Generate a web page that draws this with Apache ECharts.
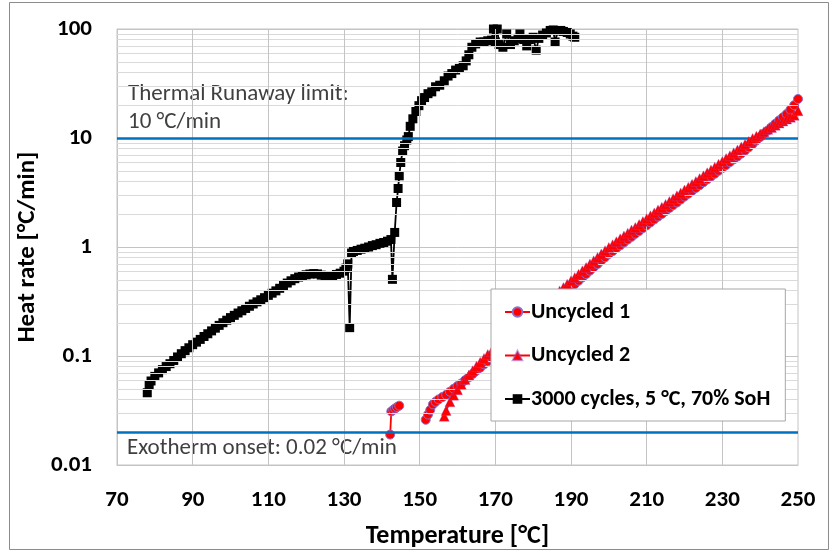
<!DOCTYPE html>
<html><head><meta charset="utf-8">
<script src="https://cdn.jsdelivr.net/npm/echarts@6/dist/echarts.min.js"></script>
<style>html,body{margin:0;padding:0;background:#fff}#c{width:837px;height:554px}</style>
</head><body><div id="c"></div><script>
// ---------- data ----------
const seriesNames = ['Uncycled 1', 'Uncycled 2', '3000 cycles, 5 \u00B0C, 70% SoH'];
const xLabelValues = [70, 90, 110, 130, 150, 170, 190, 210, 230, 250];
const xGridValues = [90, 110, 130, 150, 170, 190, 210, 230];
const yMinorGridValues = [0.02,0.03,0.04,0.05,0.06,0.07,0.08,0.09,0.2,0.3,0.4,0.5,0.6,0.7,0.8,0.9,2,3,4,5,6,7,8,9,20,30,40,50,60,70,80,90];
const limitValues = [10, 0.02];

const uncycled1Temp = [142.2,142.5,143.0,143.5,144.0,144.6,148.0,151.6,152.2,152.8,153.5,154.2,155.0,156.0,
157,158,159,160,161,162,163,164,165,166,167,168,169,170,171,172,173,174,175,176,177,178,179,180,
181,182,183,184,185,186,187,188,189,190,191,192,193,194,195,196,197,198,199,200,201,202,203,204,205,
206,207,208,209,210,211,212,213,214,215,216,217,218,219,220,221,222,223,224,225,226,227,228,229,230,
231,232,233,234,235,236,237,238,239,240,241,242,243,244,245,246,247,248,249,250];
const uncycled1Rate = [0.019,0.031,0.032,0.033,0.034,0.035,null,0.026,0.029,0.032,0.036,0.038,0.040,0.042,
0.044,0.047,0.050,0.053,0.056,0.060,0.0638,0.0684,0.0733,0.078,0.0838,0.0895,0.0961,0.103,0.111,0.119,0.128,0.137,0.147,0.158,0.169,0.182,0.195,0.209,
0.225,0.242,0.259,0.278,0.299,0.321,0.344,0.369,0.396,0.426,0.457,0.490,0.526,0.565,0.607,0.650,0.698,0.750,0.805,0.863,0.916,0.975,1.035,1.10,1.17,
1.24,1.32,1.40,1.49,1.58,1.68,1.79,1.90,2.01,2.14,2.28,2.42,2.56,2.73,2.90,3.08,3.27,3.48,3.69,3.93,4.17,4.43,4.70,5.00,5.31,
5.64,6.00,6.37,6.76,7.19,7.67,8.22,8.81,9.48,10.2,11.0,11.7,12.6,13.5,14.5,15.5,16.6,18.2,20.0,22.8];

const uncycled2Temp = [156.5,157,158,159,160,161,162,163,164,165,166,167,168,169,170,171,172,173,174,175,176,177,178,179,180,
181,182,183,184,185,186,187,188,189,190,191,192,193,194,195,196,197,198,199,200,201,202,203,204,205,
206,207,208,209,210,211,212,213,214,215,216,217,218,219,220,221,222,223,224,225,226,227,228,229,230,
231,232,233,234,235,236,237,238,239,240,241,242,243,244,245,246,247,248,249,250];
const uncycled2Rate = [0.028,0.0316,0.038,0.0437,0.049,0.055,0.061,0.0668,0.0733,0.0804,0.0875,0.095,0.103,0.110,0.1186,0.127,0.136,0.147,0.157,0.169,0.181,0.195,0.209,0.224,0.240,
0.258,0.277,0.298,0.319,0.343,0.368,0.395,0.424,0.455,0.489,0.525,0.562,0.604,0.649,0.697,0.747,0.802,0.861,0.925,0.991,1.05,1.12,1.19,1.26,1.34,
1.43,1.51,1.61,1.71,1.82,1.93,2.05,2.18,2.31,2.46,2.61,2.77,2.95,3.13,3.33,3.53,3.76,3.99,4.24,4.50,4.79,5.08,5.40,5.74,6.10,
6.48,6.88,7.31,7.77,8.25,8.77,9.31,9.89,10.4,10.9,11.4,12.0,12.5,13.1,13.7,14.3,14.9,15.5,16.2,17.8];

const cycledTemp = [78,78.5,79,80,81,82,83,84,85,86,87,88,89,90,91,92,93,94,95,96,97,98,99,100,
101,102,103,104,105,106,107,108,109,110,111,112,113,114,115,116,117,118,119,120,121,122,123,124,125,126,127,128,129,130,
130.5,131,131.5,132,132.5,133.5,134.5,135.5,136.5,137.5,138.5,139.5,140.5,141.5,142.4,142.8,143.4,143.9,144.3,144.6,145.0,145.5,
146.0,146.6,147.0,147.5,148.2,149.0,149.8,150.5,151.3,152.2,153.2,154.2,155.3,156.5,157.5,158.5,159.5,160.5,161.5,162.3,163.0,163.8,
164.8,166.0,167.0,168.0,169.0,169.5,170.0,170.5,171.0,172.0,173.0,174.0,175.0,176.0,176.5,177.5,178.3,179.0,180.0,180.8,181.5,182.5,
183.5,184.5,185.3,185.8,186.5,187.3,188.0,189.0,189.8,190.5,191.0];
const cycledRate = [0.046,0.054,0.059,0.065,0.070,0.075,0.080,0.085,0.091,0.098,0.105,0.112,0.119,0.127,0.134,0.142,0.151,0.160,0.170,0.180,0.191,0.202,0.213,0.225,
0.236,0.248,0.260,0.273,0.286,0.300,0.314,0.328,0.343,0.360,0.377,0.396,0.418,0.443,0.467,0.490,0.512,0.530,0.545,0.556,0.565,0.570,0.566,0.552,0.540,0.538,0.548,0.560,0.575,0.600,
0.640,0.700,0.182,0.880,0.910,0.930,0.955,0.975,1.000,1.030,1.050,1.080,1.100,1.130,1.170,0.505,1.36,2.56,3.44,4.5,5.96,7.6,
8.5,9.6,10.3,12.8,15.0,17.5,19.8,22.0,23.5,25.5,26.5,29.5,30.5,33.5,37.0,39.0,42.0,43.5,46.0,51.0,58.0,68.0,
73.0,76.0,76.0,78.0,79.0,100,76.0,100,72.0,68.0,90.0,72.0,78.0,82.0,90.0,80.0,70.0,80.0,84.0,64.0,82.0,88.0,
92.0,97.0,98.0,76.0,96.0,97.0,95.0,93.0,90.0,86.0,84.0];

// ---------- chart ----------
const FONT = 'Carlito, Lato, sans-serif';
const zip = (xs, ys) => xs.map((x, i) => [x, ys[i]]);
const chart = echarts.init(document.getElementById('c'), null, {renderer: 'canvas'});
const labelSet = new Set(xLabelValues);

chart.setOption({
  animation: false,
  backgroundColor: '#fff',
  grid: {left: 117, top: 29, width: 681, height: 438, show: true, borderColor: '#c4c4c4', borderWidth: 1},
  xAxis: {
    type: 'value', min: 70, max: 250, interval: 10,
    name: 'Temperature [\u00B0C]', nameLocation: 'middle', nameGap: 58,
    nameTextStyle: {fontFamily: FONT, fontWeight: 'bold', fontSize: 26, color: '#000'},
    axisLine: {show: true, lineStyle: {color: '#c4c4c4'}},
    axisTick: {show: false},
    splitLine: {show: false},
    axisLabel: {margin: 24, fontFamily: FONT, fontWeight: 'bold', fontSize: 23, color: '#000',
      formatter: v => labelSet.has(v) ? String(v) : ''}
  },
  yAxis: {
    type: 'log', logBase: 10, min: 0.01, max: 100,
    name: 'Heat rate [\u00B0C/min]', nameLocation: 'middle', nameGap: 65,
    nameTextStyle: {fontFamily: FONT, fontWeight: 'bold', fontSize: 25, color: '#000'},
    axisLine: {show: true, lineStyle: {color: '#c4c4c4'}},
    axisTick: {show: false},
    splitLine: {show: true, lineStyle: {color: '#c4c4c4', width: 1}},
    axisLabel: {margin: 25, fontFamily: FONT, fontWeight: 'bold', fontSize: 23, color: '#000',
      formatter: v => String(v)}
  },
  legend: {
    data: seriesNames, orient: 'vertical', left: 491, top: 289,
    padding: [12, 15, 11, 13], itemGap: 21.5, itemWidth: 25, itemHeight: 12,
    backgroundColor: '#fff', borderColor: '#a6a6a6', borderWidth: 1,
    textStyle: {fontFamily: FONT, fontWeight: 'bold', fontSize: 22, color: '#000', padding: [0, 0, 0, -4]},
    z: 10
  },
  graphic: [
    {type: 'rect', silent: true, z: -10, shape: {x: 9.5, y: 2.5, width: 819, height: 547},
      style: {fill: 'none', stroke: '#8c8c8c', lineWidth: 1}},
    {type: 'text', silent: true, left: 128, top: 80, z: 5,
      style: {text: 'Thermal Runaway limit:\n10 \u00B0C/min', font: '23px ' + FONT, fill: '#404040', lineHeight: 28}},
    {type: 'text', silent: true, left: 127, top: 437, z: 5,
      style: {text: 'Exotherm onset: 0.02 \u00B0C/min', font: '23px ' + FONT, fill: '#404040'}}
  ],
  series: [
    {type: 'line', name: '_grid', data: [], silent: true, z: 1,
      markLine: {silent: true, symbol: ['none', 'none'], label: {show: false}, animation: false,
        lineStyle: {color: '#dadada', width: 1, type: 'solid'},
        data: yMinorGridValues.map(v => ({yAxis: v})).concat(
          xGridValues.map(v => ({xAxis: v, lineStyle: {color: '#c4c4c4', width: 1, type: 'solid'}})))}},
    {type: 'line', name: '_limits', data: [], silent: true, z: 1.5,
      markLine: {silent: true, symbol: ['none', 'none'], label: {show: false}, animation: false,
        lineStyle: {color: '#0070C0', width: 2.5, type: 'solid'},
        data: limitValues.map(v => ({yAxis: v}))}},
    {type: 'line', name: seriesNames[2], data: zip(cycledTemp, cycledRate), z: 3,
      symbol: 'rect', symbolSize: 9, showAllSymbol: true,
      itemStyle: {color: '#000'}, lineStyle: {color: '#000', width: 1.8}},
    {type: 'line', name: seriesNames[0], data: zip(uncycled1Temp, uncycled1Rate), z: 4,
      symbol: 'circle', symbolSize: 9, showAllSymbol: true, connectNulls: false,
      itemStyle: {color: '#ff0000', borderColor: '#8a6fd0', borderWidth: 1},
      lineStyle: {color: '#ff0000', width: 1.8}},
    {type: 'line', name: seriesNames[1], data: zip(uncycled2Temp, uncycled2Rate), z: 5,
      symbol: 'triangle', symbolSize: 10, showAllSymbol: true,
      itemStyle: {color: '#ff0000', borderColor: 'rgba(150,80,200,0.5)', borderWidth: 0.6},
      lineStyle: {color: '#ff0000', width: 1.8}}
  ]
});
</script></body></html>
